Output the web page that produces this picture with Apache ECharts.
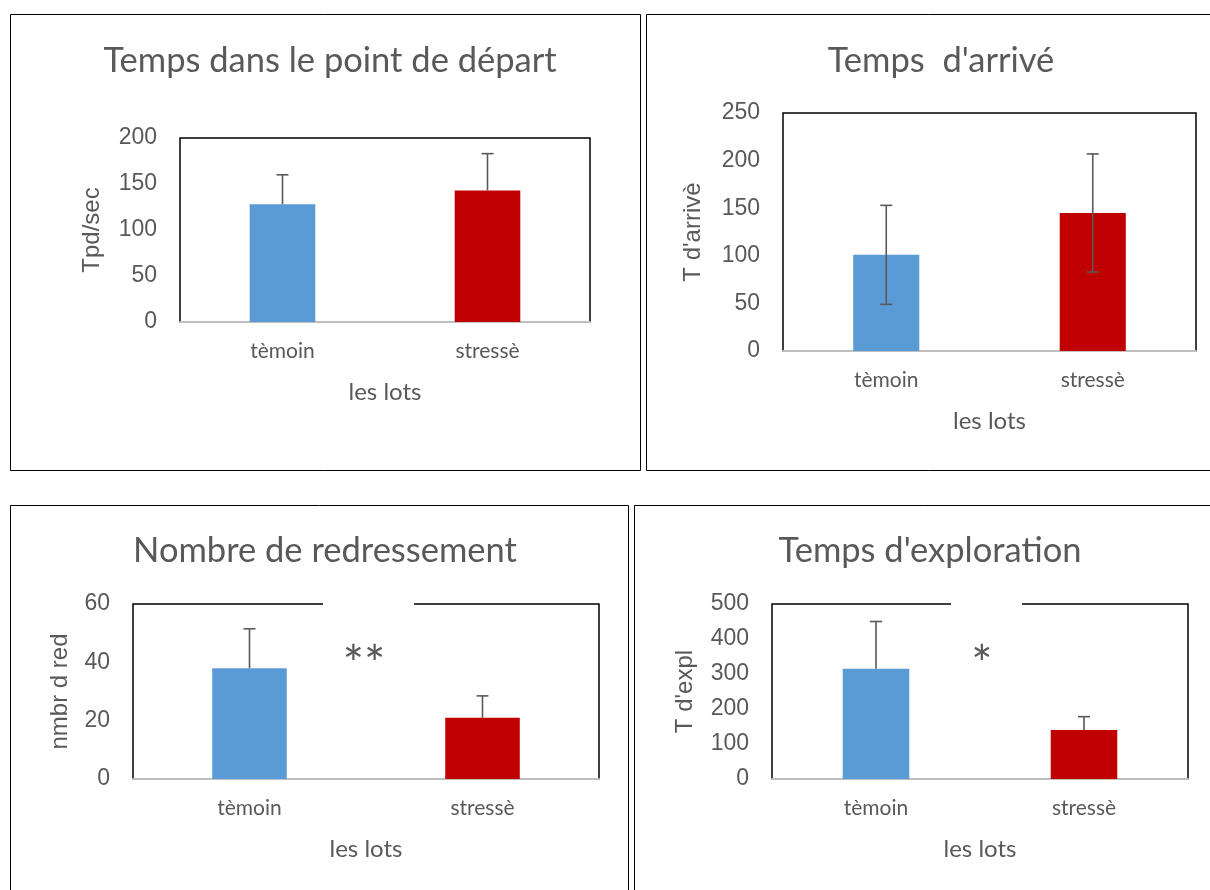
<!DOCTYPE html>
<html><head><meta charset="utf-8">
<script src="https://cdn.jsdelivr.net/npm/echarts@6/dist/echarts.min.js"></script>
<style>html,body{margin:0;padding:0;background:#fff}#c{width:1210px;height:890px}</style>
</head><body><div id="c"></div>
<script>
const categories = ['tèmoin', 'stressè'];
const departMean = [128, 143];
const departErr = [32, 40];
const arriveMean = [101, 145];
const arriveErr = [52, 62];
const redressMean = [38, 21];
const redressErr = [13.5, 7.5];
const explorMean = [315, 140];
const explorErr = [135, 38];
const yTicksDepart = [0, 200, 50];
const yTicksArrive = [0, 250, 50];
const yTicksRedress = [0, 60, 20];
const yTicksExplor = [0, 500, 100];

const colors = ['#5b9bd5', '#c00000'];
const txt = '#595959';
const calibri = 'Lato, "Open Sans", sans-serif';
const arial = '"Liberation Sans", Arial, sans-serif';

const panels = [
  {title: 'Temps dans le point de départ', yName: 'Tpd/sec', mean: departMean, err: departErr, both: false, ticks: yTicksDepart,
   grid: {left: 180, top: 138, width: 410, height: 184}, yNameGap: 76, titleX: 325, titleY: 38},
  {title: "Temps  d'arrivé", yName: "T d'arrivè", mean: arriveMean, err: arriveErr, both: true, ticks: yTicksArrive,
   grid: {left: 783, top: 113, width: 413, height: 238}, yNameGap: 78, titleX: 936, titleY: 38},
  {title: 'Nombre de redressement', yName: 'nmbr d red', mean: redressMean, err: redressErr, both: false, ticks: yTicksRedress,
   grid: {left: 133, top: 604, width: 466, height: 175}, yNameGap: 61, titleX: 320, titleY: 528},
  {title: "Temps d'exploration", yName: "T d'expl", mean: explorMean, err: explorErr, both: false, ticks: yTicksExplor,
   grid: {left: 772, top: 604, width: 416, height: 175}, yNameGap: 75, titleX: 925, titleY: 528}
];

const option = {
  animation: false,
  backgroundColor: '#fff',
  title: [], grid: [], xAxis: [], yAxis: [], series: [],
  graphic: [
    {type: 'rect', shape: {x: 10.5, y: 14.5, width: 630, height: 456}, style: {fill: 'none', stroke: '#000', lineWidth: 1}, z: 0},
    {type: 'rect', shape: {x: 646.5, y: 14.5, width: 600, height: 456}, style: {fill: 'none', stroke: '#000', lineWidth: 1}, z: 0},
    {type: 'rect', shape: {x: 10.5, y: 505.5, width: 618, height: 420}, style: {fill: 'none', stroke: '#000', lineWidth: 1}, z: 0},
    {type: 'rect', shape: {x: 634.5, y: 505.5, width: 600, height: 420}, style: {fill: 'none', stroke: '#000', lineWidth: 1}, z: 0},
    // annotation text boxes (white fill hides plot border)
    {type: 'rect', shape: {x: 323, y: 598, width: 91, height: 12}, style: {fill: '#fff'}, z: 100},
    {type: 'text', x: 364, y: 666, style: {text: '**', font: '50px ' + calibri, fill: txt, align: 'center', verticalAlign: 'middle'}, z: 101},
    {type: 'rect', shape: {x: 951, y: 598, width: 71, height: 12}, style: {fill: '#fff'}, z: 100},
    {type: 'text', x: 982, y: 666, style: {text: '*', font: '50px ' + calibri, fill: txt, align: 'center', verticalAlign: 'middle'}, z: 101}
  ]
};

panels.forEach((p, i) => {
  option.title.push({
    text: p.title, left: p.titleX, top: p.titleY, textAlign: 'center',
    textStyle: {fontFamily: calibri, fontSize: 34.5, fontWeight: 'normal', color: txt}
  });
  option.grid.push(Object.assign({show: true, borderColor: '#000', borderWidth: 1.5, backgroundColor: 'transparent'}, p.grid));
  option.xAxis.push({
    type: 'category', gridIndex: i, data: categories,
    name: 'les lots', nameLocation: 'middle', nameGap: 58,
    nameTextStyle: {fontFamily: calibri, fontSize: 24, color: txt},
    axisLine: {show: true, lineStyle: {color: '#bfbfbf', width: 2}},
    axisTick: {show: false},
    axisLabel: {fontFamily: calibri, fontSize: 21, color: txt, margin: 19}
  });
  option.yAxis.push({
    type: 'value', gridIndex: i, min: p.ticks[0], max: p.ticks[1], interval: p.ticks[2],
    name: p.yName, nameLocation: 'middle', nameGap: p.yNameGap, nameRotate: 90,
    nameTextStyle: {fontFamily: arial, fontSize: 24, color: txt},
    axisLine: {show: false}, axisTick: {show: false}, splitLine: {show: false},
    axisLabel: {fontFamily: arial, fontSize: 23, color: txt, margin: 23}
  });
  option.series.push({
    type: 'bar', xAxisIndex: i, yAxisIndex: i, barWidth: '32%', z: 2,
    data: p.mean.map((v, k) => ({value: v, itemStyle: {color: colors[k]}}))
  });
  option.series.push({
    type: 'custom', xAxisIndex: i, yAxisIndex: i, z: 5,
    data: p.mean.map((v, k) => [k, v, p.both ? v - p.err[k] : v, v + p.err[k], p.both ? 1 : 0]),
    renderItem: function (params, api) {
      const x = api.value(0), lo = api.value(2), hi = api.value(3), both = api.value(4);
      const pHi = api.coord([x, hi]);
      const pLo = api.coord([x, lo]);
      const half = 6;
      const st = {stroke: '#595959', lineWidth: 1.6};
      const ch = [
        {type: 'line', shape: {x1: pHi[0], y1: pHi[1], x2: pLo[0], y2: pLo[1]}, style: st},
        {type: 'line', shape: {x1: pHi[0] - half, y1: pHi[1], x2: pHi[0] + half, y2: pHi[1]}, style: st}
      ];
      if (both) ch.push({type: 'line', shape: {x1: pLo[0] - half, y1: pLo[1], x2: pLo[0] + half, y2: pLo[1]}, style: st});
      return {type: 'group', children: ch};
    }
  });
});

const chart = echarts.init(document.getElementById('c'), null, {renderer: 'canvas'});
chart.setOption(option);
</script></body></html>
